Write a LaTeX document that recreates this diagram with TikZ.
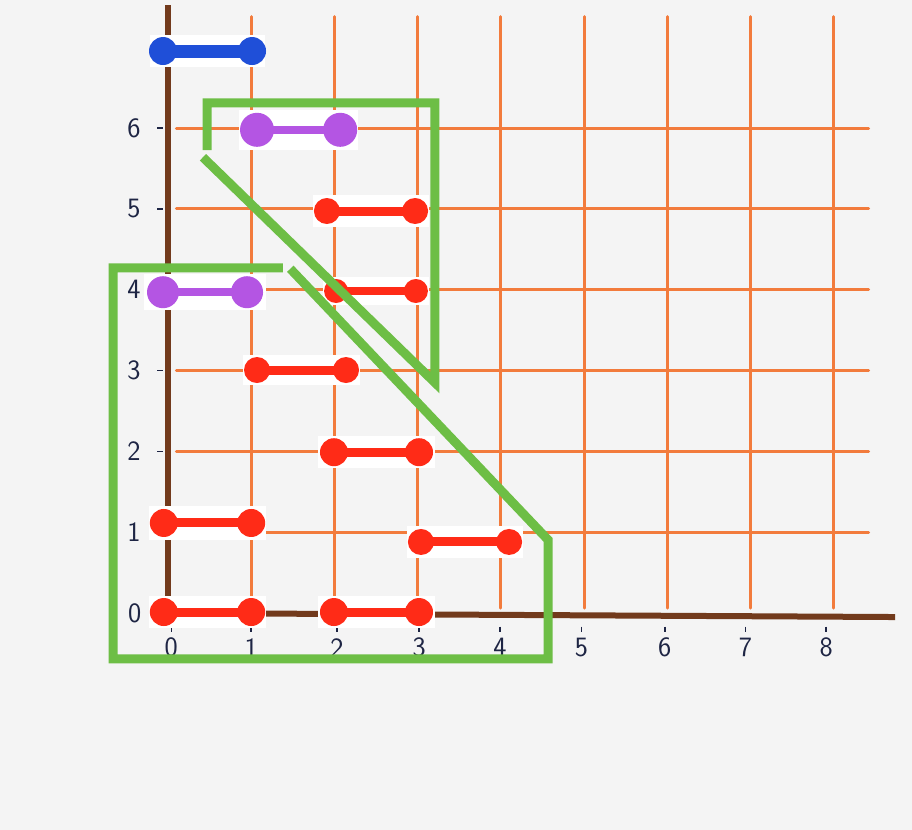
\documentclass[tikz,border=0pt]{standalone}
\usepackage{xcolor}
\definecolor{gridorange}{HTML}{F27B3C}
\definecolor{axisbrown}{HTML}{723A1C}
\definecolor{barred}{HTML}{FF2B17}
\definecolor{barviolet}{HTML}{B455E3}
\definecolor{barblue}{HTML}{1F4FD8}
\definecolor{framegreen}{HTML}{6DBE45}
\definecolor{inkblue}{HTML}{1E2544}
\definecolor{paper}{HTML}{F4F4F4}

\begin{document}
\begin{tikzpicture}[x=83.2pt,y=80.8pt,
    gridline/.style={gridorange,line width=3pt,line cap=round},
    axisline/.style={axisbrown,line width=6pt},
    tickmark/.style={inkblue,line width=1.6pt},
    numlabel/.style={inkblue,font=\sffamily\fontsize{28}{32}\selectfont,inner sep=0pt},
    frameline/.style={framegreen,line width=9pt}]
    \useasboundingbox (-2.0192,-2.6856) rectangle (8.9423,7.5866);
    \fill[paper] (-2.0192,-2.6856) rectangle (8.9423,7.5866);
    % grid
    \foreach \i in {1,...,8}
        \draw[gridline] (\i,0.06) -- (\i,7.38);
    \foreach \j in {1,...,6}
        \draw[gridline] (0.1,\j) -- (8.42,\j);
    % axes
    \coordinate (O) at (0,0);
    \coordinate (xend) at (8.74,-0.05);
    \coordinate (yend) at (0,7.52);
    \draw[axisline] (-0.1,0) -- (xend);
    \draw[axisline] (O) -- (yend);
    % ticks and numbers
    \foreach \j in {1,...,6} {
        \draw[tickmark] (-0.13,\j) -- (-0.06,\j);
        \node[numlabel] (ylab\j) at (-0.41,\j) {\j};
    }
    \node[numlabel] (ylab0) at (-0.40,0) {0};
    \foreach \i/\xx in {0/0.04,1/1.0,2/2.03,3/3.02,4/3.99,5/4.97,6/5.97,7/6.94,8/7.91} {
        \draw[tickmark] (\xx,-0.17) -- (\xx,-0.24);
        \node[numlabel] (xlab\i) at (\xx,-0.43) {\i};
    }
    % dumbbells: left/right/height/colour/radius/bar/xpad/ypad
    \foreach \xa/\xb/\yy/\col/\rad/\wd/\ex/\hh in {
        -0.06/1.01/6.955/barblue/14/13/13/16,
        1.07/2.07/5.98/barviolet/17/8/18/20,
        -0.06/0.95/3.97/barviolet/16/8/19/18,
        1.91/2.97/4.975/barred/13/9/14/16,
        2.02/2.98/3.985/barred/12/8/13/14,
        1.07/2.14/3.007/barred/13/9/14/15,
        1.995/3.017/1.99/barred/14/9/16/16,
        -0.05/1.0/1.114/barred/14/9/15/17,
        3.04/4.10/0.879/barred/13/9/14/16,
        -0.05/1.0/0.012/barred/14/9/15/16,
        1.995/3.017/0.012/barred/14/9/16/16} {
        \fill[white] ([xshift=-\ex pt,yshift=-\hh pt]\xa,\yy) rectangle ([xshift=\ex pt,yshift=\hh pt]\xb,\yy);
        \draw[\col,line width=\wd pt] (\xa,\yy) -- (\xb,\yy);
        \fill[\col] (\xa,\yy) circle (\rad pt) (\xb,\yy) circle (\rad pt);
    }
    % upper frame
    \coordinate (A1) at (0.469,5.73);
    \coordinate (A2) at (0.469,6.312);
    \coordinate (A3) at (3.209,6.312);
    \coordinate (A4) at (3.209,2.85);
    \coordinate (A5) at (0.42,5.64);
    \draw[frameline] (A1) -- (A2) -- (A3) -- (A4) -- (A5);
    % lower frame
    \coordinate (B1) at (1.38,4.27);
    \coordinate (B2) at (-0.661,4.27);
    \coordinate (B3) at (-0.661,-0.569);
    \coordinate (B4) at (4.57,-0.569);
    \coordinate (B5) at (4.57,0.903);
    \coordinate (B6) at (1.47,4.26);
    \draw[frameline] (B1) -- (B2) -- (B3) -- (B4) -- (B5) -- (B6);
\end{tikzpicture}
\end{document}
